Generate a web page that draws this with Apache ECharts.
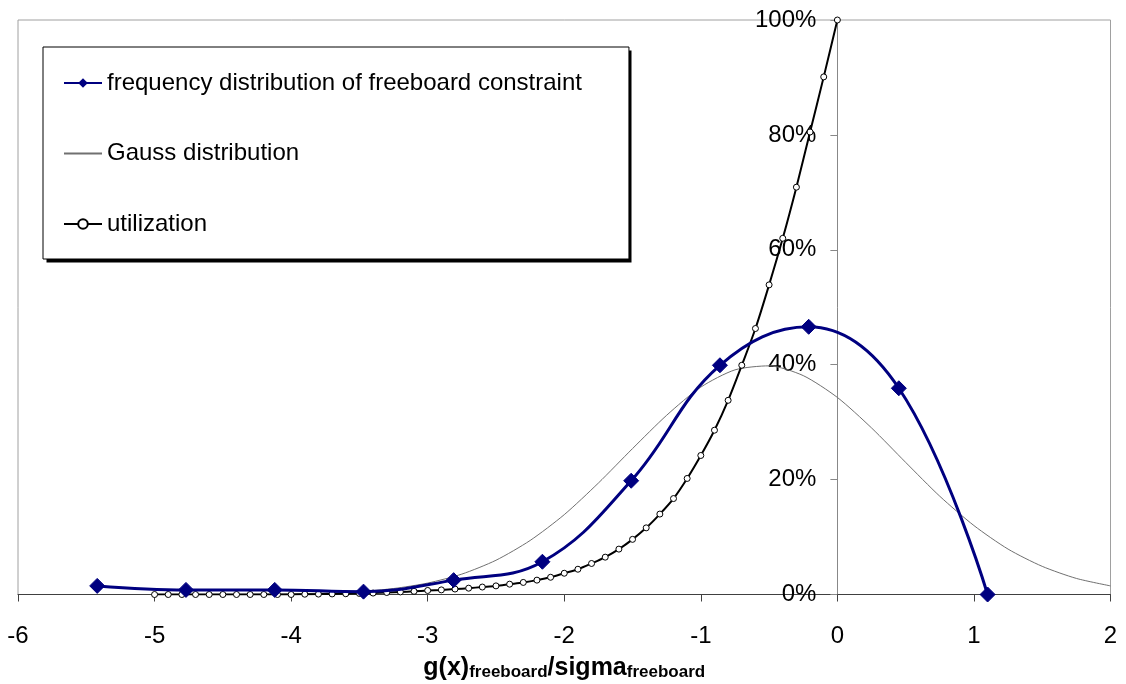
<!DOCTYPE html>
<html>
<head>
<meta charset="utf-8">
<script src="https://cdn.jsdelivr.net/npm/echarts@6/dist/echarts.min.js"></script>
<style>
html,body{margin:0;padding:0;background:#fff;}
#chart{width:1126px;height:684px;}
</style>
</head>
<body>
<div id="chart"></div>
<script>
// frequency distribution of freeboard constraint
const freqX = [-5.42, -4.77, -4.12, -3.47, -2.81, -2.16, -1.51, -0.86, -0.21, 0.45, 1.10];
const freqY = [1.5, 0.8, 0.8, 0.5, 2.5, 5.7, 19.8, 39.9, 46.6, 35.9, 0];

// Gauss distribution
const gaussX = [-5.0, -4.75, -4.5, -4.25, -4.0, -3.75, -3.5, -3.25, -3.0, -2.75, -2.5, -2.25, -2.0, -1.75, -1.5, -1.25, -1.0, -0.75, -0.5, -0.25, 0.0, 0.25, 0.5, 0.75, 1.0, 1.25, 1.5, 1.75, 2.0];
const gaussY = [0.0, 0.0, 0.02, 0.04, 0.10, 0.24, 0.51, 1.04, 1.99, 3.55, 5.96, 9.4, 13.9, 19.4, 25.4, 31.2, 36.1, 39.1, 39.8, 38.1, 34.3, 29.0, 23.0, 17.1, 12.0, 7.9, 4.9, 2.8, 1.5];

// utilization
const utilX = [-5.0, -4.9, -4.8, -4.7, -4.6, -4.5, -4.4, -4.3, -4.2, -4.1, -4.0, -3.9, -3.8, -3.7, -3.6, -3.5, -3.4, -3.3, -3.2, -3.1, -3.0, -2.9, -2.8, -2.7, -2.6, -2.5, -2.4, -2.3, -2.2, -2.1, -2.0, -1.9, -1.8, -1.7, -1.6, -1.5, -1.4, -1.3, -1.2, -1.1, -1.0, -0.9, -0.8, -0.7, -0.6, -0.5, -0.4, -0.3, -0.2, -0.1, 0.0];
const utilY = [0, 0, 0, 0, 0, 0, 0, 0, 0, 0, 0, 0.05, 0.07, 0.1, 0.13, 0.18, 0.25, 0.35, 0.45, 0.55, 0.7, 0.8, 0.95, 1.1, 1.3, 1.5, 1.8, 2.1, 2.5, 3.0, 3.7, 4.4, 5.4, 6.5, 7.9, 9.6, 11.6, 14.0, 16.7, 20.2, 24.2, 28.6, 33.8, 39.9, 46.3, 53.9, 62.0, 70.9, 80.5, 90.1, 100];

const xTicks = {min: -6, max: 2, interval: 1};
const yTicks = {min: 0, max: 100, interval: 20};

const zip = (xs, ys) => xs.map((x, i) => [x, ys[i]]);

const chart = echarts.init(document.getElementById('chart'), null, {renderer: 'canvas'});
const FONT = '"Liberation Sans", Arial, sans-serif';

chart.setOption({
  animation: false,
  backgroundColor: '#fff',
  textStyle: {fontFamily: FONT},
  grid: {left: 18, right: 15.5, top: 20, bottom: 89.5, show: true, containLabel: false, outerBoundsMode: 'none',
         borderColor: '#a0a0a0', borderWidth: 1, backgroundColor: 'transparent'},
  graphic: [{
    type: 'rect', z: 1, silent: true,
    shape: {x: 46.5, y: 50.5, width: 585, height: 212},
    style: {fill: '#000'}
  }],
  legend: {
    orient: 'vertical',
    left: 43, top: 47,
    padding: [24, 47, 23, 20],
    itemGap: 46.5,
    itemWidth: 38, itemHeight: 12,
    backgroundColor: '#fff',
    borderColor: '#000', borderWidth: 1, borderRadius: 0,
    textStyle: {fontFamily: FONT, fontSize: 24, color: '#000', lineHeight: 24},
    data: [
      'frequency distribution of freeboard constraint',
      {name: 'Gauss distribution', itemStyle: {opacity: 0}},
      'utilization'
    ]
  },
  xAxis: {
    type: 'value', min: xTicks.min, max: xTicks.max, interval: xTicks.interval,
    axisLine: {show: true, onZero: true, lineStyle: {color: '#404040', width: 1}},
    axisTick: {show: true, length: 7, lineStyle: {color: '#404040'}},
    splitLine: {show: false},
    axisLabel: {fontFamily: FONT, fontSize: 24, color: '#000', margin: 30},
    name: '{m|g(x)}{s|freeboard}{m|/sigma}{s|freeboard}',
    nameLocation: 'middle', nameGap: 56,
    nameTextStyle: {
      rich: {
        m: {fontFamily: FONT, fontSize: 25, fontWeight: 'bold', color: '#000', verticalAlign: 'bottom', lineHeight: 30},
        s: {fontFamily: FONT, fontSize: 17, fontWeight: 'bold', color: '#000', verticalAlign: 'bottom', lineHeight: 14}
      }
    }
  },
  yAxis: {
    type: 'value', min: yTicks.min, max: yTicks.max, interval: yTicks.interval,
    position: 'left', offset: 0,
    axisLine: {show: true, onZero: false, lineStyle: {color: '#888', width: 1}},
    axisTick: {show: true, length: 7, lineStyle: {color: '#888'}},
    splitLine: {show: false},
    axisLabel: {fontFamily: FONT, fontSize: 24, color: '#000', margin: 21, formatter: '{value}%'}
  },
  series: [
    {
      name: 'frequency distribution of freeboard constraint',
      type: 'line', data: zip(freqX, freqY), smooth: 0.4, z: 4,
      symbol: 'diamond', symbolSize: 15,
      lineStyle: {color: '#000080', width: 3},
      itemStyle: {color: '#000080', borderColor: '#000080'}
    },
    {
      name: 'Gauss distribution',
      type: 'line', data: zip(gaussX, gaussY), smooth: 0.25, z: 2,
      showSymbol: false, symbol: 'none',
      lineStyle: {color: '#707070', width: 1},
      itemStyle: {color: '#707070'}
    },
    {
      name: 'utilization',
      type: 'line', data: zip(utilX, utilY), smooth: 0.3, z: 3,
      symbol: 'circle', symbolSize: 6,
      lineStyle: {color: '#000', width: 2},
      itemStyle: {color: '#fff', borderColor: '#000', borderWidth: 1}
    }
  ]
});

// place the y axis at x = 0 using the library's own x scale
const zeroPx = chart.convertToPixel({xAxisIndex: 0}, 0);
const leftPx = chart.convertToPixel({xAxisIndex: 0}, xTicks.min);
chart.setOption({yAxis: {offset: leftPx - zeroPx}});
</script>
</body>
</html>
